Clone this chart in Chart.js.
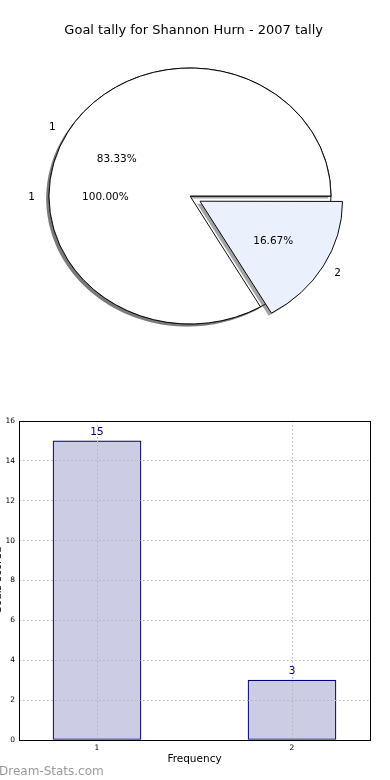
<!DOCTYPE html>
<html>
<head>
<meta charset="utf-8">
<title>Goal tally for Shannon Hurn - 2007 tally</title>
<script src="https://cdn.jsdelivr.net/npm/chart.js"></script>
<style>
 body{margin:0;background:#fff;}
 #page{position:relative;width:390px;height:780px;overflow:hidden;background:#fff;}
 #pieBox canvas{position:absolute;left:0;top:0;}
 #barChart{position:absolute;left:-10px;top:390px;}
 #mark{position:absolute;left:-1px;top:765px;font:12px/12px "DejaVu Sans";color:#9a9a9a;}
</style>
</head>
<body>
<div id="page">
 <div id="pieBox">
  <canvas id="shadowAll" width="390" height="390"></canvas>
  <canvas id="pieAll" width="390" height="390"></canvas>
  <canvas id="shadowSplit" width="390" height="390"></canvas>
  <canvas id="pieSplit" width="390" height="390"></canvas>
 </div>
 <canvas id="barChart" width="400" height="390"></canvas>
 <div id="mark">Dream-Stats.com</div>
</div>
<script>
var TITLE = 'Goal tally for Shannon Hurn - 2007 tally';
var goalsPerGame = ['1', '2'];
var games = [15, 3];
var wholeLabels = ['1'];
var wholeGames = [18];
var xTicks = [1, 2];
var yTicks = [0, 2, 4, 6, 8, 10, 12, 14, 16];
var xLabel = 'Frequency';
var yLabel = 'Goals scored';

Chart.defaults.font.family = '"DejaVu Sans", sans-serif';
Chart.defaults.color = '#000';

var RADIUS = 141;
var SQUASH = 128 / 141;   // the pie is drawn as an ellipse
var EXPLODE = 46;         // chart.js moves the slice by offset/4
var labelCharts = [];

function sum(a){
	var s = 0;
	for(var k=0;k<a.length;k++) s += a[k];
	return s;
}

// squash the pie vertically around its centre
var squash = {
	id: 'squash',
	beforeDatasetsDraw: function(chart){
		var arc = chart.getDatasetMeta(0).data[0];
		var ctx = chart.ctx;
		ctx.save();
		ctx.translate(arc.x, arc.y);
		ctx.scale(1, SQUASH);
		ctx.translate(-arc.x, -arc.y);
	},
	afterDatasetsDraw: function(chart){
		chart.ctx.restore();
	}
};

// slice names outside, percentages inside (both pies)
var pieText = {
	id: 'pieText',
	afterDraw: function(chart){
		var ctx = chart.ctx;
		ctx.save();
		ctx.font = '10.5px "DejaVu Sans"';
		ctx.fillStyle = '#000';
		ctx.textBaseline = 'middle';
		labelCharts.concat([chart]).forEach(function(c){
			var vals = c.data.datasets[0].data;
			var total = sum(vals);
			c.getDatasetMeta(0).data.forEach(function(arc, i){
				var mid = (arc.startAngle + arc.endAngle) / 2;
				var t = (arc.options.offset || 0) / 4;
				var r = RADIUS;
				var cs = Math.cos(mid), sn = Math.sin(mid);
				var pt = function(k){
					return [arc.x + cs * (t + r * k), arc.y + sn * (t + r * k) * SQUASH + 1.5];
				};
				var p = pt(1.1);
				ctx.textAlign = cs < 0 ? 'right' : 'left';
				ctx.fillText(c.data.labels[i], p[0], p[1]);
				var q = pt(0.6);
				ctx.textAlign = 'center';
				ctx.fillText((vals[i] / total * 100).toFixed(2) + '%', q[0], q[1]);
			});
		});
		ctx.restore();
	}
};

function pieOptions(values, shiftX, shiftY, titleColor){
	return {
		responsive: false,
		animation: false,
		events: [],
		rotation: 90 + 360 * (1 - values[0] / sum(values)),
		radius: RADIUS,
		layout: {padding: {left: 57 + shiftX, right: 67 - shiftX, top: shiftY, bottom: 43.6 - shiftY}},
		plugins: {
			legend: {display: false},
			tooltip: {enabled: false},
			title: {
				display: true,
				text: TITLE,
				align: 'end',
				color: titleColor,
				font: {size: 13, weight: 'normal'},
				padding: {top: 23, bottom: 7}
			}
		}
	};
}

var SHADOW = 'rgba(77,77,77,0.5)';
var NONE = 'rgba(0,0,0,0)';

new Chart(document.getElementById('shadowAll'), {
	type: 'pie',
	data: {labels: wholeLabels, datasets: [{data: wholeGames, backgroundColor: [SHADOW], borderWidth: 0}]},
	options: pieOptions(wholeGames, -2.8, 2.6, NONE),
	plugins: [squash]
});

var pieAll = new Chart(document.getElementById('pieAll'), {
	type: 'pie',
	data: {labels: wholeLabels, datasets: [{data: wholeGames, backgroundColor: ['#ffffff'], borderColor: '#000', borderWidth: 1, borderJoinStyle: 'miter'}]},
	options: pieOptions(wholeGames, 0, 0, NONE),
	plugins: [squash]
});
labelCharts.push(pieAll);

new Chart(document.getElementById('shadowSplit'), {
	type: 'pie',
	data: {labels: goalsPerGame, datasets: [{data: games, backgroundColor: [SHADOW, 'rgba(70,72,76,0.5)'], borderWidth: 0, offset: [0, EXPLODE]}]},
	options: pieOptions(games, -2.8, 2.6, NONE),
	plugins: [squash]
});

new Chart(document.getElementById('pieSplit'), {
	type: 'pie',
	data: {labels: goalsPerGame, datasets: [{data: games, backgroundColor: ['#ffffff', '#eaf0fc'], borderColor: '#000', borderWidth: 1, borderJoinStyle: 'miter', offset: [0, EXPLODE]}]},
	options: pieOptions(games, 0, 0, '#000'),
	plugins: [squash, pieText]
});

// bar chart
var barValues = {
	id: 'barValues',
	afterDraw: function(chart){
		var ctx = chart.ctx;
		ctx.save();
		ctx.fillStyle = '#000080';
		ctx.font = '10.5px "DejaVu Sans"';
		ctx.textAlign = 'center';
		ctx.textBaseline = 'middle';
		chart.getDatasetMeta(0).data.forEach(function(bar, i){
			ctx.fillText(String(games[i]), bar.x, bar.y - 9);
		});
		ctx.restore();
	}
};

var frame = {
	id: 'frame',
	afterDraw: function(chart){
		var a = chart.chartArea;
		var ctx = chart.ctx;
		ctx.save();
		ctx.strokeStyle = '#000';
		ctx.lineWidth = 1;
		ctx.strokeRect(Math.round(a.left) + 0.5, Math.round(a.top) + 0.5, Math.round(a.right - a.left), Math.round(a.bottom - a.top));
		ctx.restore();
	}
};

var barData = [];
for(var k=0;k<goalsPerGame.length;k++){
	barData.push({x: Number(goalsPerGame[k]), y: games[k]});
}

new Chart(document.getElementById('barChart'), {
	type: 'bar',
	data: {
		datasets: [{
			data: barData,
			backgroundColor: '#ccccE5',
			borderColor: '#000080',
			borderWidth: 1.2,
			borderSkipped: false,
			barThickness: 88
		}]
	},
	options: {
		responsive: false,
		animation: false,
		events: [],
		layout: {padding: {top: 31, right: 20, left: 0, bottom: 0}},
		plugins: {legend: {display: false}, tooltip: {enabled: false}},
		scales: {
			x: {
				type: 'linear',
				min: 0.6,
				max: 2.4,
				offset: false,
				afterBuildTicks: function(s){ s.ticks = xTicks.map(function(v){ return {value: v}; }); },
				afterFit: function(s){ s.height = 40; },
				grid: {color: '#b5b5b5', lineWidth: 1, drawTicks: false, offset: false, z: 1},
				border: {display: false, dash: [1.5, 2.5]},
				ticks: {font: {size: 7.5}, padding: 4, color: '#000'},
				title: {display: true, text: xLabel, font: {size: 10.5}, color: '#000', padding: {top: 0, bottom: 14}}
			},
			y: {
				min: 0,
				max: 16,
				afterBuildTicks: function(s){ s.ticks = yTicks.map(function(v){ return {value: v}; }); },
				afterFit: function(s){ s.width = 29; },
				grid: {color: '#b5b5b5', lineWidth: 1, drawTicks: false, z: 1},
				border: {display: false, dash: [1.5, 2.5]},
				ticks: {font: {size: 7.5}, padding: 4, color: '#000'},
				title: {display: true, text: yLabel, font: {size: 10.5}, color: '#000', padding: {top: 2.2, bottom: 0}}
			}
		}
	},
	plugins: [barValues, frame]
});
</script>
</body>
</html>
